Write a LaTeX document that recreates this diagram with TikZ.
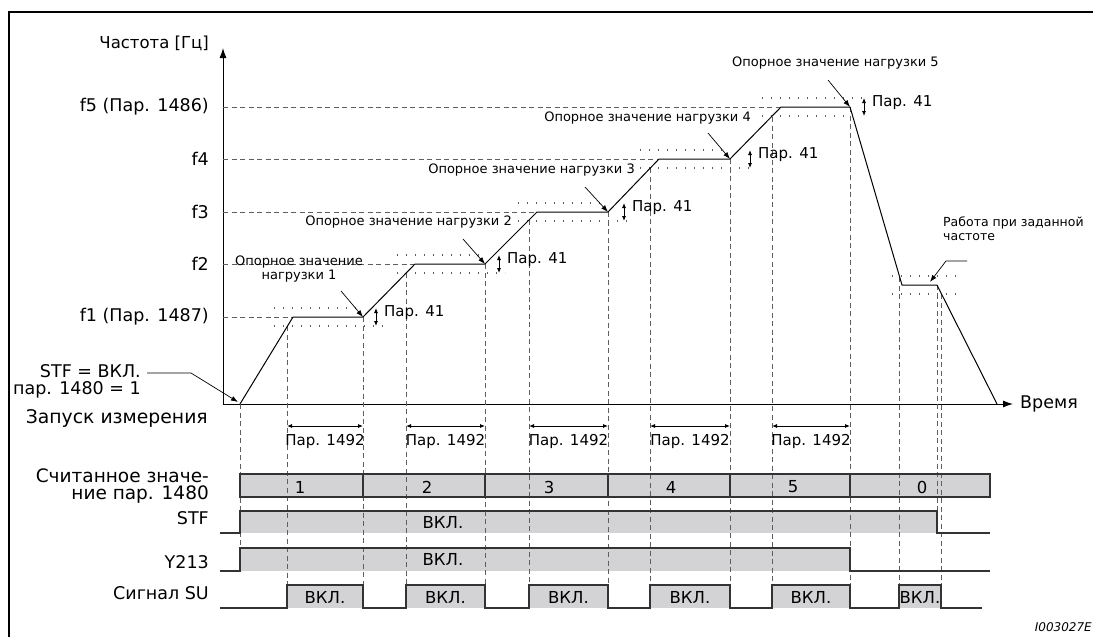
\documentclass[tikz,border=0pt]{standalone}
\usepackage{fontspec}
\setmainfont{DejaVu Sans}
\usepackage{tikz}
\definecolor{sigfill}{RGB}{211, 211, 213}
\definecolor{guidegray}{RGB}{95, 95, 95}
\usetikzlibrary{arrows.meta, positioning}

\begin{document}
\begin{tikzpicture}[x=1pt, y=-1pt,
    >={Latex[length=10pt,width=7pt]},   % Pfeilspitzen
    lbl/.style={inner sep=0pt, font=\fontsize{17.5}{17}\selectfont},
    par/.style={inner sep=0pt, font=\fontsize{15}{17}\selectfont},
    note/.style={inner sep=0pt, font=\fontsize{13}{14}\selectfont},
    guide/.style={draw=guidegray, line width=0.9pt, dash pattern=on 5pt off 3.5pt},
    band/.style={draw=guidegray, line width=1.2pt, dash pattern=on 1.2pt off 7.8pt},
    sig/.style={draw=black!80, line width=1.1pt},
    ptr/.style={-{Latex[length=7pt,width=5pt]}, line width=0.7pt},
    tol/.style={{Latex[length=5pt,width=4pt]}-{Latex[length=5pt,width=4pt]}, line width=0.8pt}]
  \useasboundingbox (0,0) rectangle (1093,637);
  % Rahmen
  \draw[line width=2pt] (9,637) -- (9,12) -- (1093,12);
  % Punkte der Kurve
  \foreach \n/\x/\y in {s0/240/404, a1/293/317, b1/363/317, a2/415/264, b2/485/264,
      a3/537/212, b3/608/212, a4/659/159, b4/730/159, a5/781/107, b5/850/107,
      a6/902/285, b6/937/285, e0/997/404}
    \coordinate (\n) at (\x,\y);
  % Achsen
  \coordinate (o) at (223,404);
  \coordinate (ytip) at (223,48);
  \coordinate (xtip) at (1013,404);
  \draw[->, line width=1pt] (o) -- (ytip);
  \draw[->, line width=1pt] (o) -- (xtip);
  \node[lbl, font=\fontsize{16.5}{17}\selectfont, anchor=east] (ylabel) at (209,43) {Частота [Гц]};
  \node[lbl, anchor=west] (xlabel) at (1020,404) {Время};
  % Frequenzstufen
  \foreach \n/\y/\t in {1/317/{f1 (Пар. 1487)}, 2/264/f2, 3/212/f3, 4/159/f4, 5/107/{f5 (Пар. 1486)}} {
    \node[lbl, anchor=east] (f\n) at (209,\y) {\t};
    \draw[guide] (223,\y) -- (a\n);
  }
  % Toleranzbaender
  \foreach \l/\ru/\rl/\y in {274/357/383/317, 397/480/505/264, 518/603/628/212,
      640/725/752/159, 762/867/847/107, 892/957/957/285} {
    \draw[band] (\l,\y-9) -- (\ru,\y-9);
    \draw[band] (\l,\y+9) -- (\rl,\y+9);
  }
  % Signalflaechen
  \fill[sigfill] (240,474) rectangle (990,497);
  \fill[sigfill] (240,511) rectangle (937,533);
  \fill[sigfill] (240,548) rectangle (850,571);
  \foreach \l/\r in {287/363, 406/485, 529/608, 650/730, 772/850, 899/941}
    \fill[sigfill] (\l,585) rectangle (\r,608);
  % Hilfslinien
  \foreach \x/\t/\b in {240/404/548, 287/326/585, 363/317/585, 406/273/585, 485/264/585,
      529/220/585, 608/212/585, 650/168/585, 730/159/585, 772/117/585, 850/107/585,
      899/277/585, 937/285/511, 941/294/585}
    \draw[guide] (\x,\t) -- (\x,\b);
  % Kurve
  \draw[line width=1pt] (s0) -- (a1) -- (b1) -- (a2) -- (b2) -- (a3) -- (b3) -- (a4)
    -- (b4) -- (a5) -- (b5) -- (a6) -- (b6) -- (e0);
  % Par. 41
  \foreach \x/\y [count=\i] in {376/317, 499/264, 624/212, 750/159, 864/107} {
    \draw[tol] (\x,\y-9) -- (\x,\y+9);
    \node[par, anchor=west] (tol\i) at (\x+8,\y-4) {Пар. 41};
  }
  % Par. 1492
  \foreach \l/\r [count=\i] in {287/363, 406/485, 529/608, 650/730, 772/850} {
    \draw[tol] (\l,426) -- (\r,426);
    \node[par] (dur\i) at ({(\l+\r)/2},441) {Пар. 1492};
  }
  % Opornye znacheniya
  \node[note, align=center] (ref1) at (299,269) {Опорное значение\\нагрузки 1};
  \node[note, anchor=east] (ref2) at (512,222) {Опорное значение нагрузки 2};
  \node[note, anchor=east] (ref3) at (635,170) {Опорное значение нагрузки 3};
  \node[note, anchor=east] (ref4) at (751,118) {Опорное значение нагрузки 4};
  \node[note, anchor=west] (ref5) at (732,63) {Опорное значение нагрузки 5};
  \foreach \x/\y [count=\i] in {341/291, 463/239, 585/187, 708/133, 828/80} {
    \coordinate (r\i) at (\x,\y);
    \draw[ptr] (r\i) -- (b\i);
  }
  % Festfrequenz
  \node[note, font=\fontsize{12.5}{14}\selectfont, anchor=west, align=left] (fixlbl) at (943,229) {Работа при заданной\\частоте};
  \coordinate (fx0) at (967,261);
  \coordinate (fx1) at (946,261);
  \coordinate (fxt) at (930,282);
  \draw[ptr] (fx0) -- (fx1) -- (fxt);
  % Start
  \node[lbl, anchor=east, align=right] (stfnote) at (141,381) {STF = ВКЛ.\\пар. 1480 = 1};
  \coordinate (st0) at (147,373);
  \coordinate (st1) at (191,373);
  \coordinate (stt) at (238,402);
  \draw[ptr] (st0) -- (st1) -- (stt);
  \node[lbl, font=\fontsize{18.8}{17}\selectfont, anchor=east] (startlbl) at (208,418) {Запуск измерения};
  % Signalverlaeufe
  \draw[sig] (240,474) rectangle (990,497);
  \foreach \x in {363,485,608,730,850} \draw[sig] (\x,474) -- (\x,497);
  \draw[sig] (220,533) -- (240,533) -- (240,511) -- (937,511) -- (937,533) -- (990,533);
  \draw[sig] (220,571) -- (240,571) -- (240,548) -- (850,548) -- (850,571) -- (990,571);
  \draw[sig] (220,608) \foreach \l/\r in {287/363, 406/485, 529/608, 650/730, 772/850, 899/941}
    { -- (\l,608) -- (\l,585) -- (\r,585) -- (\r,608) } -- (982,608);
  \node[lbl, font=\fontsize{18.5}{17}\selectfont, anchor=east, align=right] (rdlbl) at (209,486) {Считанное значе-\\ние пар. 1480};
  \node[lbl, anchor=east] (stflbl) at (209,518) {STF};
  \node[lbl, anchor=east] (ylbl) at (209,562) {Y213};
  \node[lbl, anchor=east] (sulbl) at (209,593) {Сигнал SU};
  \foreach \x/\v in {300/1, 427/2, 549/3, 671/4, 793/5, 922/0}
    \node[lbl, font=\fontsize{16.5}{17}\selectfont] (val\v) at (\x,487) {\v};
  \node[lbl, font=\fontsize{16.5}{17}\selectfont] (stfon) at (443,522) {ВКЛ.};
  \node[lbl, font=\fontsize{16.5}{17}\selectfont] (yon) at (443,559) {ВКЛ.};
  \foreach \l/\r [count=\i] in {287/363, 406/485, 529/608, 650/730, 772/850, 899/941}
    \node[lbl, font=\fontsize{16.5}{17}\selectfont] (suon\i) at ({(\l+\r)/2},597) {ВКЛ.};
  % Kennung
  \node[inner sep=0pt, anchor=east, font=\itshape\fontsize{12}{14}\selectfont] (imgid) at (1092,627) {I003027E};
\end{tikzpicture}
\end{document}
